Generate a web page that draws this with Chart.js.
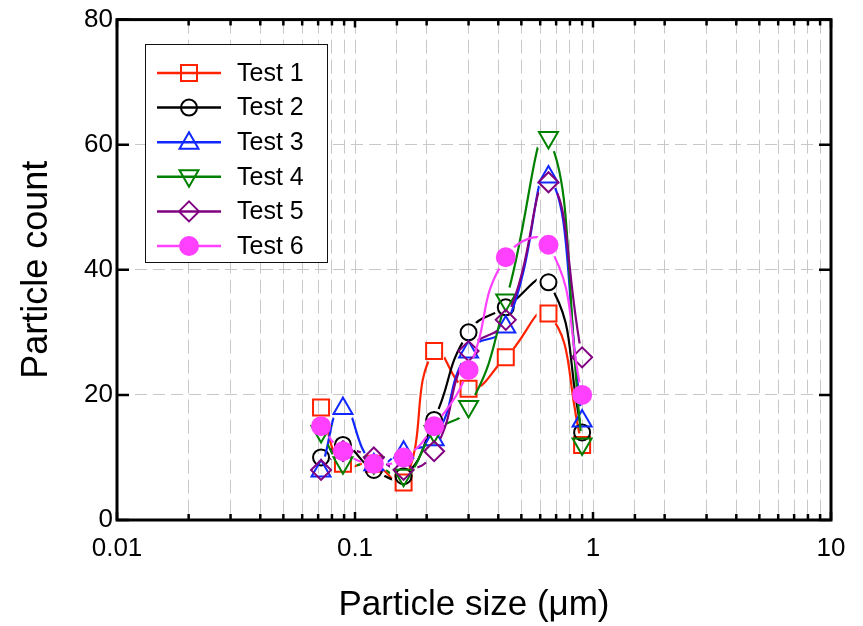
<!DOCTYPE html>
<html>
<head>
<meta charset="utf-8">
<title>Particle size distribution</title>
<script src="https://cdn.jsdelivr.net/npm/chart.js@4.4.0/dist/chart.umd.min.js"></script>
<style>
  html, body { margin: 0; padding: 0; background: #fff; }
  #wrap { width: 863px; height: 626px; }
</style>
</head>
<body>
<div id="wrap"><canvas id="psd"></canvas></div>
<script>
// particle size bins (um) and counts per test run
const sizes = [0.072, 0.089, 0.12, 0.16, 0.215, 0.3, 0.43, 0.65, 0.9];
const test1 = [18, 9, 9, 6, 27, 21, 26, 33, 12];
const test2 = [10, 12, 8, 7, 16, 30, 34, 38, 14];
const test3 = [8, 18, 9, 11, 13, 27, 31, 55, 16];
const test4 = [14, 9, 9, 7, 14, 18, 35, 61, 12];
const test5 = [8, 11, 10, 8, 11, 27, 32, 54, 26];
const test6 = [15, 11, 9, 10, 15, 24, 42, 44, 20];
const seriesNames = ['Test 1', 'Test 2', 'Test 3', 'Test 4', 'Test 5', 'Test 6'];
const seriesValues = [test1, test2, test3, test4, test5, test6];
const xTickLabels = ['0.01', '0.1', '1', '10'];
const yTicks = [0, 20, 40, 60, 80];

const FONT = '"Liberation Sans", Arial, Helvetica, sans-serif';

// marker look for each run
const styles = [
    { color: '#ff2200', marker: 'square', size: 8, filled: false },
    { color: '#000000', marker: 'circle', size: 8, filled: false },
    { color: '#1028ff', marker: 'triangle', size: 10, filled: false },
    { color: '#008000', marker: 'triangleDown', size: 10, filled: false },
    { color: '#800080', marker: 'diamond', size: 10, filled: false },
    { color: '#ff40ff', marker: 'circle', size: 9, filled: true }
];

function markerPath(ctx, shape, x, y, r) {
    ctx.beginPath();
    if (shape === 'square') {
        ctx.rect(x - r, y - r, 2 * r, 2 * r);
    } else if (shape === 'circle') {
        ctx.arc(x, y, r, 0, Math.PI * 2);
    } else if (shape === 'triangle') {
        ctx.moveTo(x, y - r);
        ctx.lineTo(x + r * 0.95, y + r * 0.65);
        ctx.lineTo(x - r * 0.95, y + r * 0.65);
        ctx.closePath();
    } else if (shape === 'triangleDown') {
        ctx.moveTo(x, y + r);
        ctx.lineTo(x + r * 0.95, y - r * 0.65);
        ctx.lineTo(x - r * 0.95, y - r * 0.65);
        ctx.closePath();
    } else if (shape === 'diamond') {
        ctx.moveTo(x, y - r);
        ctx.lineTo(x + r, y);
        ctx.lineTo(x, y + r);
        ctx.lineTo(x - r, y);
        ctx.closePath();
    }
}

function drawMarker(ctx, st, x, y) {
    ctx.save();
    ctx.lineWidth = 2;
    ctx.strokeStyle = st.color;
    ctx.fillStyle = st.color;
    markerPath(ctx, st.marker, x, y, st.size);
    if (st.filled) ctx.fill();
    ctx.stroke();
    ctx.restore();
}

// lines stop short of each marker, markers drawn on top afterwards
const markerGaps = {
    id: 'markerGaps',
    beforeDatasetDraw(chart, args) {
        const ctx = chart.ctx;
        const st = styles[args.index];
        const gap = st.size + 4;
        ctx.save();
        args.meta.data.forEach(pt => {
            ctx.beginPath();
            ctx.rect(0, 0, chart.width, chart.height);
            ctx.moveTo(pt.x + gap, pt.y);
            ctx.arc(pt.x, pt.y, gap, 0, Math.PI * 2);
            ctx.clip('evenodd');
        });
    },
    afterDatasetDraw(chart, args) {
        const ctx = chart.ctx;
        ctx.restore();
        const st = styles[args.index];
        args.meta.data.forEach(pt => drawMarker(ctx, st, pt.x, pt.y));
    }
};

// closed frame with inward ticks on all four sides
const frame = {
    id: 'frame',
    afterDatasetsDraw(chart) {
        const ctx = chart.ctx;
        const a = chart.chartArea;
        const xs = chart.scales.x;
        const ys = chart.scales.y;
        ctx.save();
        ctx.strokeStyle = '#000';
        ctx.lineWidth = 3;
        ctx.strokeRect(a.left, a.top, a.right - a.left, a.bottom - a.top);

        ctx.lineWidth = 2.5;
        ctx.beginPath();
        xs.ticks.forEach(t => {
            const lg = Math.log10(t.value);
            const major = Math.abs(lg - Math.round(lg)) < 1e-9;
            const len = major ? 8 : 6;
            const px = xs.getPixelForValue(t.value);
            ctx.moveTo(px, a.bottom);
            ctx.lineTo(px, a.bottom - len);
            ctx.moveTo(px, a.top);
            ctx.lineTo(px, a.top + len);
        });
        ys.ticks.forEach(t => {
            const py = ys.getPixelForValue(t.value);
            ctx.moveTo(a.left, py);
            ctx.lineTo(a.left + 12, py);
            ctx.moveTo(a.right, py);
            ctx.lineTo(a.right - 12, py);
        });
        ctx.stroke();
        ctx.restore();
    }
};

// boxed legend inside the plot, line sample through the marker
const boxLegend = {
    id: 'boxLegend',
    afterDraw(chart) {
        const ctx = chart.ctx;
        const left = 145, top = 44, w = 182, h = 218;
        ctx.save();
        ctx.fillStyle = '#fff';
        ctx.fillRect(left, top, w, h);
        ctx.strokeStyle = '#111';
        ctx.lineWidth = 1;
        ctx.strokeRect(left + 0.5, top + 0.5, w, h);
        ctx.font = '25px ' + FONT;
        ctx.textBaseline = 'middle';
        seriesNames.forEach((name, i) => {
            const st = styles[i];
            const y = top + 29 + i * 34.6;
            ctx.strokeStyle = st.color;
            ctx.lineWidth = 2.5;
            ctx.beginPath();
            ctx.moveTo(157, y);
            ctx.lineTo(221, y);
            ctx.stroke();
            drawMarker(ctx, st, 189, y);
            ctx.fillStyle = '#000';
            ctx.fillText(name, 237, y + 1);
        });
        ctx.restore();
    }
};

const datasets = seriesNames.map((name, i) => ({
    label: name,
    data: sizes.map((s, k) => ({ x: s, y: seriesValues[i][k] })),
    borderColor: styles[i].color,
    borderWidth: 2.2,
    tension: 0.5,
    fill: false,
    pointRadius: 0,
    pointHoverRadius: 0,
    order: seriesNames.length - 1 - i
}));

new Chart(document.getElementById('psd'), {
    type: 'line',
    data: { datasets: datasets },
    plugins: [markerGaps, frame, boxLegend],
    options: {
        responsive: true,
        maintainAspectRatio: false,
        animation: false,
        events: [],
        layout: { padding: { left: 0, right: 32, top: 18, bottom: 0 } },
        plugins: { legend: { display: false }, tooltip: { enabled: false } },
        scales: {
            x: {
                type: 'logarithmic',
                min: 0.01,
                max: 10,
                grid: { color: '#c8c8c8', lineWidth: 1, drawTicks: false },
                border: { display: false, dash: [14, 6] },
                ticks: {
                    autoSkip: false,
                    maxRotation: 0,
                    padding: 13,
                    color: '#000',
                    font: { family: FONT, size: 26 },
                    callback: function (value) {
                        const lg = Math.log10(value);
                        if (Math.abs(lg - Math.round(lg)) > 1e-9) return '';
                        return xTickLabels[Math.round(lg) + 2];
                    }
                },
                title: {
                    display: true,
                    text: 'Particle size (\u03bcm)',
                    color: '#000',
                    font: { family: FONT, size: 35 },
                    padding: { top: 0, bottom: 0 }
                },
                afterFit(scale) { scale.height = 106; }
            },
            y: {
                min: 0,
                max: 80,
                afterBuildTicks(scale) { scale.ticks = yTicks.map(v => ({ value: v })); },
                grid: { color: '#c8c8c8', lineWidth: 1, drawTicks: false },
                border: { display: false, dash: [12, 6] },
                ticks: {
                    padding: 4,
                    color: '#000',
                    font: { family: FONT, size: 26 }
                },
                title: {
                    display: true,
                    text: 'Particle count',
                    color: '#000',
                    font: { family: FONT, size: 36 },
                    padding: { top: 15, bottom: 0 }
                },
                afterFit(scale) { scale.width = 117; }
            }
        }
    }
});
</script>
</body>
</html>
